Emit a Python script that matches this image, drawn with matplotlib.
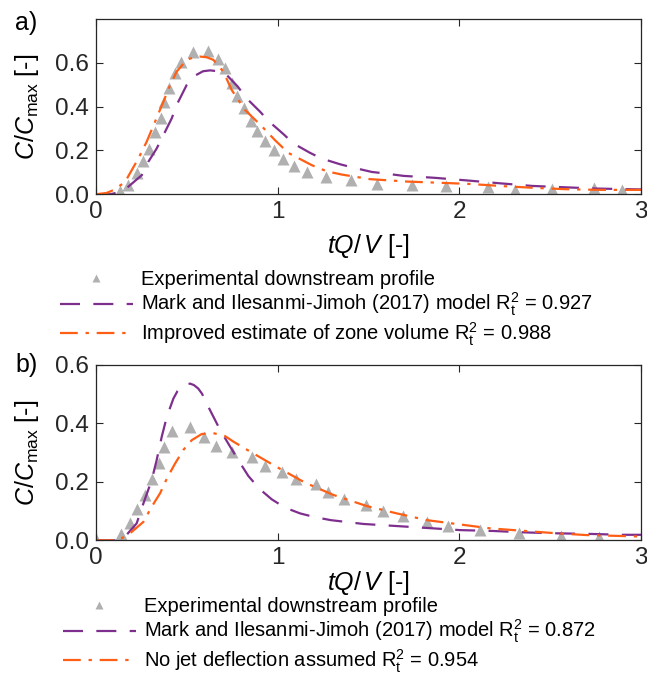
import matplotlib
matplotlib.use("Agg")
import matplotlib.pyplot as plt

plt.rcParams['font.family'] = ['Liberation Sans', 'DejaVu Sans']
plt.rcParams['mathtext.fontset'] = 'custom'
plt.rcParams['mathtext.rm'] = 'Liberation Sans'
plt.rcParams['mathtext.it'] = 'Liberation Sans:italic'

# ---- panel a data ----
a_exp_x = [0.134, 0.176, 0.225, 0.262, 0.295, 0.326, 0.359, 0.378, 0.403, 0.436,
           0.469, 0.533, 0.620, 0.674, 0.711, 0.748, 0.776, 0.816, 0.853, 0.889,
           0.931, 0.981, 1.032, 1.091, 1.164, 1.265, 1.404, 1.546, 1.742, 1.927,
           2.160, 2.306, 2.508, 2.741, 2.897]
a_exp_y = [0.014, 0.044, 0.098, 0.153, 0.209, 0.285, 0.347, 0.420, 0.484, 0.553,
           0.606, 0.649, 0.655, 0.617, 0.576, 0.507, 0.449, 0.393, 0.336, 0.290,
           0.244, 0.202, 0.163, 0.128, 0.102, 0.079, 0.064, 0.049, 0.041, 0.037,
           0.034, 0.021, 0.026, 0.029, 0.021]

a_mark_x = [0.0, 0.08, 0.12, 0.171, 0.253, 0.289, 0.335, 0.372, 0.418, 0.445, 0.500,
            0.546, 0.590, 0.629, 0.670, 0.720, 0.780, 0.830, 0.904, 0.955, 1.032,
            1.087, 1.179, 1.243, 1.344, 1.414, 1.518, 1.591, 1.692, 1.866, 2.044,
            2.224, 2.401, 2.576, 2.756, 3.0]
a_mark_y = [0.0, 0.0, 0.008, 0.029, 0.087, 0.148, 0.209, 0.270, 0.347, 0.408, 0.499,
            0.542, 0.562, 0.566, 0.562, 0.545, 0.493, 0.438, 0.377, 0.331, 0.275,
            0.232, 0.189, 0.163, 0.137, 0.122, 0.102, 0.095, 0.084, 0.075, 0.063,
            0.050, 0.038, 0.032, 0.026, 0.022]

a_imp_x = [0.0, 0.06, 0.10, 0.161, 0.234, 0.280, 0.326, 0.372, 0.409, 0.445, 0.500,
           0.540, 0.574, 0.610, 0.647, 0.702, 0.748, 0.821, 0.913, 0.986, 1.059,
           1.188, 1.270, 1.353, 1.509, 1.711, 1.876, 2.059, 2.242, 2.416, 2.591,
           2.774, 3.0]
a_imp_y = [0.0, 0.006, 0.020, 0.056, 0.163, 0.240, 0.331, 0.423, 0.499, 0.560, 0.614,
           0.626, 0.629, 0.626, 0.614, 0.560, 0.476, 0.385, 0.311, 0.247, 0.189,
           0.133, 0.105, 0.090, 0.069, 0.058, 0.053, 0.047, 0.037, 0.029, 0.023,
           0.020, 0.020]

# ---- panel b data ----
b_exp_x = [0.0, 0.139, 0.189, 0.229, 0.271, 0.311, 0.348, 0.378, 0.418, 0.519,
           0.598, 0.660, 0.752, 0.858, 0.931, 1.027, 1.102, 1.212, 1.276, 1.368,
           1.487, 1.582, 1.692, 1.824, 1.940, 2.114, 2.330, 2.559, 2.770]
b_exp_y = [0.005, 0.022, 0.060, 0.107, 0.155, 0.208, 0.265, 0.318, 0.374, 0.386,
           0.354, 0.322, 0.300, 0.284, 0.254, 0.234, 0.208, 0.192, 0.165, 0.140,
           0.122, 0.100, 0.083, 0.063, 0.050, 0.037, 0.025, 0.016, 0.010]

b_mark_x = [0.0, 0.11, 0.16, 0.225, 0.262, 0.308, 0.335, 0.363, 0.391, 0.427,
            0.450, 0.473, 0.495, 0.519, 0.540, 0.564, 0.585, 0.601, 0.638, 0.684,
            0.739, 0.790, 0.839, 0.900, 0.968, 1.040, 1.124, 1.200, 1.293, 1.472,
            1.652, 1.830, 2.004, 2.187, 2.367, 2.536, 2.719, 2.893, 3.0]
b_mark_y = [0.0, 0.0, 0.012, 0.058, 0.126, 0.206, 0.274, 0.354, 0.422, 0.484,
            0.510, 0.524, 0.532, 0.535, 0.530, 0.518, 0.500, 0.478, 0.433, 0.377,
            0.320, 0.268, 0.220, 0.176, 0.140, 0.112, 0.092, 0.080, 0.069, 0.056,
            0.049, 0.042, 0.035, 0.032, 0.027, 0.024, 0.022, 0.019, 0.019]

b_nojet_x = [0.0, 0.09, 0.14, 0.198, 0.262, 0.308, 0.354, 0.391, 0.436, 0.482,
             0.528, 0.583, 0.647, 0.711, 0.757, 0.830, 0.977, 1.151, 1.307, 1.491,
             1.656, 1.821, 1.995, 2.169, 2.362, 2.536, 2.701, 2.884, 3.0]
b_nojet_y = [0.0, 0.0, 0.006, 0.029, 0.063, 0.115, 0.161, 0.211, 0.262, 0.309,
             0.342, 0.363, 0.366, 0.356, 0.337, 0.310, 0.257, 0.197, 0.155, 0.117,
             0.092, 0.069, 0.055, 0.041, 0.032, 0.024, 0.018, 0.015, 0.013]

labels_a = ['Experimental downstream profile',
            r'Mark and Ilesanmi-Jimoh (2017) model R$_\mathrm{t}^\mathrm{2}$ = 0.927',
            r'Improved estimate of zone volume R$_\mathrm{t}^\mathrm{2}$ = 0.988']
labels_b = ['Experimental downstream profile',
            r'Mark and Ilesanmi-Jimoh (2017) model R$_\mathrm{t}^\mathrm{2}$ = 0.872',
            r'No jet deflection assumed R$_\mathrm{t}^\mathrm{2}$ = 0.954']

gray = '#b0b0b0'
purple = '#7e2f8e'
orange = '#ff5f15'
dash = (0, (9, 6))
dashdot = (0, (8, 3.5, 1.5, 3.5))

fig = plt.figure(figsize=(6.47, 6.84), dpi=100)
ax1 = fig.add_axes([0.148, 0.716, 0.843, 0.256])
ax2 = fig.add_axes([0.148, 0.210, 0.843, 0.257])


def style(ax, ymax, yticks, xpad):
    ax.set_xlim(0, 3)
    ax.set_ylim(0, ymax)
    ax.set_xticks([0, 1, 2, 3])
    ax.set_yticks(yticks)
    ax.set_yticklabels([f'{v:.1f}' for v in yticks])
    ax.tick_params(direction='in', top=True, right=True, labelsize=17.5,
                   length=5, width=0.8, colors='#262626', pad=5)
    for s in ax.spines.values():
        s.set_color('#262626')
        s.set_linewidth(0.9)
    ax.set_xlabel(r'$\mathit{tQ/\,V}$ [-]', fontsize=18, labelpad=xpad)
    ax.set_ylabel(r'$\mathit{C/C}_\mathrm{max}$ [-]', fontsize=18, labelpad=10)


h1 = ax1.plot(a_exp_x, a_exp_y, '^', color=gray, ms=9, mec='none', zorder=1)[0]
h2 = ax1.plot(a_mark_x, a_mark_y, color=purple, lw=1.6, ls=dash)[0]
h3 = ax1.plot(a_imp_x, a_imp_y, color=orange, lw=1.6, ls=dashdot)[0]
style(ax1, 0.8, [0, 0.2, 0.4, 0.6], 6)
ax1.text(-0.107, 0.977, 'a)', transform=ax1.transAxes, fontsize=18,
         ha='right', va='center')

g1 = ax2.plot(b_exp_x, b_exp_y, '^', color=gray, ms=9, mec='none', zorder=1)[0]
g2 = ax2.plot(b_mark_x, b_mark_y, color=purple, lw=1.6, ls=dash)[0]
g3 = ax2.plot(b_nojet_x, b_nojet_y, color=orange, lw=1.6, ls=dashdot)[0]
style(ax2, 0.6, [0, 0.2, 0.4, 0.6], 0)
ax2.text(-0.107, 1.0, 'b)', transform=ax2.transAxes, fontsize=18,
         ha='right', va='center')

leg_kw = dict(frameon=False, fontsize=14.5, handlelength=3.6, handletextpad=0.4,
              labelspacing=0.1, borderpad=0, borderaxespad=0, markerscale=0.7)
fig.legend([h1, h2, h3], labels_a, loc='upper left',
           bbox_to_anchor=(60 / 647, 1 - 270 / 684), **leg_kw)
fig.legend([g1, g2, g3], labels_b, loc='upper left',
           bbox_to_anchor=(63 / 647, 1 - 597 / 684), **leg_kw)

fig.savefig('out.png', dpi=100)
